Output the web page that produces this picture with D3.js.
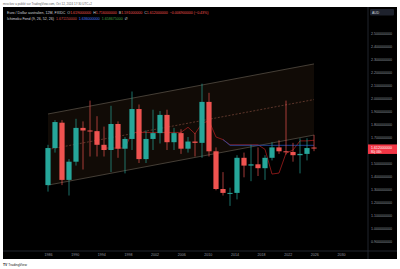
<!DOCTYPE html>
<html>
<head>
  <meta charset="utf-8">
  <title>EUR/AUD 12M</title>
  <script src="https://d3js.org/d3.v7.min.js"></script>
  <style>
    body { margin: 0; background: #fff; }
    svg text { font-family: "Liberation Sans", Arial, sans-serif; }
    .axis .domain, .axis line { display: none; }
  </style>
</head>
<body>
  <svg id="chart"></svg>

  <script>
    // Yearly candles (FX_IDC EUR/AUD)
    const years = [1986, 1987, 1988, 1989, 1990, 1991, 1992, 1993, 1994, 1995,
                   1996, 1997, 1998, 1999, 2000, 2001, 2002, 2003, 2004, 2005,
                   2006, 2007, 2008, 2009, 2010, 2011, 2012, 2013, 2014, 2015,
                   2016, 2017, 2018, 2019, 2020, 2021, 2022, 2023, 2024];
    const open  = [1.33, 1.615, 1.81, 1.37, 1.51, 1.77, 1.75, 1.745, 1.64, 1.60,
                   1.80, 1.61, 1.685, 1.915, 1.53, 1.685, 1.73, 1.87, 1.66, 1.73,
                   1.61, 1.665, 1.655, 1.97, 1.59, 1.30, 1.27, 1.27, 1.54, 1.48,
                   1.49, 1.46, 1.54, 1.62, 1.59, 1.585, 1.56, 1.57, 1.619];
    const high  = [1.64, 1.83, 1.83, 1.53, 1.84, 1.82, 1.98, 1.86, 1.78, 1.94,
                   1.82, 1.70, 2.05, 1.95, 1.75, 1.91, 1.90, 1.91, 1.77, 1.76,
                   1.70, 1.73, 2.11, 2.04, 1.62, 1.43, 1.31, 1.56, 1.58, 1.64,
                   1.62, 1.56, 1.66, 1.675, 1.98, 1.655, 1.69, 1.69, 1.716];
    const low   = [1.28, 1.58, 1.33, 1.25, 1.48, 1.45, 1.55, 1.55, 1.55, 1.43,
                   1.54, 1.42, 1.60, 1.50, 1.50, 1.60, 1.65, 1.60, 1.60, 1.57,
                   1.58, 1.55, 1.54, 1.55, 1.29, 1.25, 1.17, 1.22, 1.39, 1.36,
                   1.40, 1.37, 1.52, 1.57, 1.565, 1.51, 1.42, 1.52, 1.591];
    const close = [1.615, 1.815, 1.37, 1.51, 1.77, 1.75, 1.745, 1.64, 1.60, 1.80,
                   1.61, 1.685, 1.915, 1.53, 1.685, 1.73, 1.87, 1.66, 1.73, 1.61,
                   1.665, 1.655, 1.97, 1.59, 1.30, 1.27, 1.27, 1.54, 1.48, 1.49,
                   1.46, 1.54, 1.62, 1.59, 1.585, 1.56, 1.57, 1.615, 1.612];

    // Ichimoku lines
    const convYears = [1994, 1995, 1996, 1997, 1998, 1999, 2000, 2001, 2002, 2003,
                       2004, 2005, 2006, 2007, 2008, 2009, 2010, 2011, 2012, 2013,
                       2014, 2015, 2016, 2017, 2018, 2019, 2020, 2021, 2022, 2023, 2024];
    const convLine  = [1.615, 1.615, 1.615, 1.615, 1.735, 1.735, 1.735, 1.735, 1.735, 1.735,
                       1.735, 1.735, 1.775, 1.725, 1.805, 1.825, 1.70, 1.68, 1.64, 1.64,
                       1.64, 1.64, 1.64, 1.605, 1.415, 1.4225, 1.575, 1.60, 1.67, 1.67, 1.675];
    const baseYears = [2011, 2012, 2013, 2014, 2015, 2016, 2017, 2018, 2019, 2020, 2021, 2022, 2023, 2024];
    const baseLine  = [1.68, 1.636, 1.636, 1.636, 1.636, 1.636, 1.636, 1.636, 1.636, 1.636, 1.636, 1.636, 1.636, 1.636];

    // Regression channel drawing
    const channelYears = [1986, 2024];
    const channelUpper = [1.877, 2.262];
    const channelMid   = [1.604, 1.988];
    const channelLower = [1.33, 1.715];

    // Axis ticks
    const priceTicks = [2.5, 2.4, 2.3, 2.2, 2.1, 2.0, 1.9, 1.8, 1.7, 1.6, 1.5, 1.4, 1.3, 1.2, 1.1, 1.0, 0.9];
    const yearTicks = [1986, 1990, 1994, 1998, 2002, 2006, 2010, 2014, 2018, 2022, 2026, 2030];

    const width = 400;
    const height = 269;
    const panel = { left: 3, right: 397, top: 7, bottom: 259 };
    const priceAxisX = 368;
    const timeAxisY = 251;

    const upColor = "#26a69a";
    const downColor = "#ef5350";

    const svg = d3.select("#chart")
                  .attr("width", width)
                  .attr("height", height);

    // page header / footer
    svg.append("text")
       .attr("x", 3).attr("y", 5)
       .attr("font-size", 3)
       .attr("fill", "#666")
       .text("mrockev a publié sur TradingView.com, Oct 12, 2024 17:30 UTC+2");

    svg.append("text")
       .attr("x", 3).attr("y", 265.5)
       .attr("font-size", 3.4)
       .attr("font-weight", "bold")
       .attr("fill", "#222")
       .text("TV")
       .append("tspan")
       .attr("font-weight", "normal")
       .text(" TradingView");

    // chart panel
    svg.append("rect")
       .attr("x", panel.left).attr("y", panel.top)
       .attr("width", panel.right - panel.left)
       .attr("height", panel.bottom - panel.top)
       .attr("fill", "#000");

    svg.append("line")
       .attr("x1", priceAxisX).attr("x2", priceAxisX)
       .attr("y1", panel.top).attr("y2", panel.bottom)
       .attr("stroke", "#2a2e39").attr("stroke-width", 0.8);

    svg.append("line")
       .attr("x1", panel.left).attr("x2", panel.right)
       .attr("y1", timeAxisY).attr("y2", timeAxisY)
       .attr("stroke", "#2a2e39").attr("stroke-width", 0.8);

    // scales
    const yScale = d3.scaleLinear()
                     .domain([0.9, 2.5])
                     .range([241, 33]);

    const xScale = d3.scaleLinear()
                     .domain([1986, 2024])
                     .range([48, 314]);

    const xLabelScale = d3.scaleLinear()
                          .domain([1986, 2030])
                          .range([48, 341]);

    const chart = svg.append("g");

    // channel fill + lines
    const chan = channelYears.map((yr, i) => ({ yr, up: channelUpper[i], mid: channelMid[i], lo: channelLower[i] }));

    chart.append("path")
         .datum(chan)
         .attr("fill", "#110b06")
         .attr("d", d3.area()
                      .x(d => xScale(d.yr))
                      .y0(d => yScale(d.lo))
                      .y1(d => yScale(d.up)));

    [["up", "#544c42", null], ["lo", "#544c42", null], ["mid", "#6e4034", "2,1.6"]].forEach(([key, col, dash]) => {
      chart.append("path")
           .datum(chan)
           .attr("fill", "none")
           .attr("stroke", col)
           .attr("stroke-width", 0.8)
           .attr("stroke-dasharray", dash)
           .attr("d", d3.line().x(d => xScale(d.yr)).y(d => yScale(d[key])));
    });

    // ichimoku
    chart.append("path")
         .datum(convYears.map((yr, i) => [yr, convLine[i]]))
         .attr("fill", "none")
         .attr("stroke", "#a11d1d")
         .attr("stroke-width", 0.8)
         .attr("d", d3.line().x(d => xScale(d[0])).y(d => yScale(d[1])));

    chart.append("path")
         .datum(baseYears.map((yr, i) => [yr, baseLine[i]]))
         .attr("fill", "none")
         .attr("stroke", "#2a4fb0")
         .attr("stroke-width", 0.8)
         .attr("d", d3.line().x(d => xScale(d[0])).y(d => yScale(d[1])));

    // candles
    const candles = years.map((yr, i) => ({
      yr, o: open[i], h: high[i], l: low[i], c: close[i]
    }));
    const bodyW = 5.2;
    const col = d => d.c >= d.o ? upColor : downColor;

    chart.selectAll(".wick")
         .data(candles)
         .enter()
         .append("line")
         .attr("class", "wick")
         .attr("x1", d => xScale(d.yr)).attr("x2", d => xScale(d.yr))
         .attr("y1", d => yScale(d.h)).attr("y2", d => yScale(d.l))
         .attr("stroke", col)
         .attr("stroke-width", 0.8)
         .attr("stroke-opacity", 0.85);

    chart.selectAll(".body")
         .data(candles)
         .enter()
         .append("rect")
         .attr("class", "body")
         .attr("x", d => xScale(d.yr) - bodyW / 2)
         .attr("y", d => yScale(Math.max(d.o, d.c)))
         .attr("width", bodyW)
         .attr("height", d => Math.max(1, Math.abs(yScale(d.o) - yScale(d.c))))
         .attr("fill", col);

    const last = candles[candles.length - 1];
    const ly = yScale(last.c);

    // price axis (the tick hidden behind the last-price label is left out)
    svg.append("g")
       .attr("class", "axis")
       .attr("transform", `translate(${priceAxisX + 3},0)`)
       .call(d3.axisRight(yScale)
               .tickValues(priceTicks.filter(v => Math.abs(yScale(v) - ly) > 7))
               .tickSize(0).tickPadding(0).tickFormat(d3.format(".9f")))
       .selectAll("text")
       .attr("font-size", 3.6)
       .attr("fill", "#9598a1");

    // time axis
    svg.append("g")
       .attr("class", "axis")
       .attr("transform", `translate(0,${timeAxisY + 2.5})`)
       .call(d3.axisBottom(xLabelScale).tickValues(yearTicks).tickSize(0).tickPadding(0).tickFormat(d3.format("d")))
       .selectAll("text")
       .attr("font-size", 3.6)
       .attr("fill", "#9598a1");

    // currency box
    svg.append("rect")
       .attr("x", 370).attr("y", 9)
       .attr("width", 24).attr("height", 6.5)
       .attr("rx", 1)
       .attr("fill", "#1e222d");
    svg.append("text")
       .attr("x", 372).attr("y", 13.6)
       .attr("font-size", 3.4)
       .attr("fill", "#d1d4dc")
       .text("AUD");

    // last price label
    svg.append("rect")
       .attr("x", priceAxisX).attr("y", ly - 4)
       .attr("width", panel.right - priceAxisX).attr("height", 9.5)
       .attr("fill", "#f23645");
    svg.append("text")
       .attr("x", priceAxisX + 3).attr("y", ly + 0.3)
       .attr("font-size", 3.6)
       .attr("fill", "#fff")
       .text(d3.format(".9f")(last.c));
    svg.append("text")
       .attr("x", priceAxisX + 3).attr("y", ly + 4.2)
       .attr("font-size", 3.2)
       .attr("fill", "#fff")
       .text("80j 06h");

    // legend
    const leg1 = svg.append("text")
                    .attr("x", 7).attr("y", 13.5)
                    .attr("font-size", 3.6)
                    .attr("fill", "#d1d4dc");
    leg1.append("tspan").text("Euro / Dollar australien, 12M, FXIDC");
    [["O", last.o], ["H", last.h], ["B", last.l], ["C", last.c]].forEach(([k, v]) => {
      leg1.append("tspan").attr("dx", 2).text(k);
      leg1.append("tspan").attr("fill", downColor).text(d3.format(".9f")(v));
    });
    leg1.append("tspan").attr("dx", 2).attr("fill", downColor)
        .text("−0.006900000 (−0.43%)");

    const leg2 = svg.append("text")
                    .attr("x", 7).attr("y", 20)
                    .attr("font-size", 3.6)
                    .attr("fill", "#d1d4dc");
    leg2.append("tspan").text("Ichimoku Fond (9, 26, 52, 26)");
    leg2.append("tspan").attr("dx", 2).attr("fill", "#d9534f").text("1.671150000");
    leg2.append("tspan").attr("dx", 2).attr("fill", "#4a7bff").text("1.636000000");
    leg2.append("tspan").attr("dx", 2).attr("fill", "#43a047").text("1.658675000");
    leg2.append("tspan").attr("dx", 2).attr("fill", "#b2b5be").text("Ø");
  </script>
</body>
</html>
